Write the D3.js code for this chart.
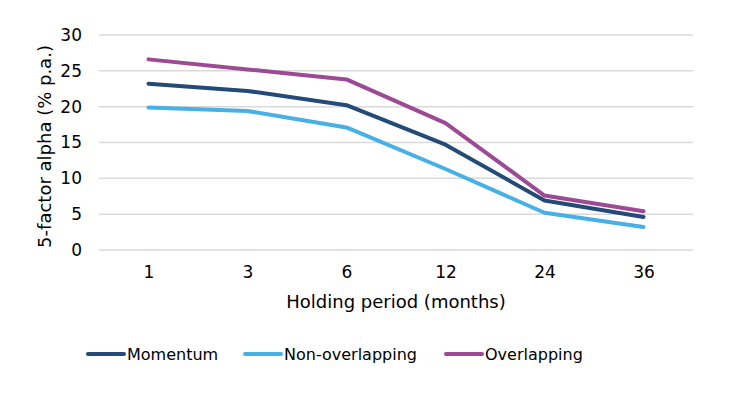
<!DOCTYPE html>
<html>
<head>
<meta charset="utf-8">
<script src="https://cdn.jsdelivr.net/npm/d3@7"></script>
<style>
  body { margin: 0; background: #fff; }
  text { font-family: "DejaVu Sans", Verdana, sans-serif; fill: #000; }
</style>
</head>
<body>
<svg id="chart"></svg>
<script>
// data
const periods = ["1", "3", "6", "12", "24", "36"];
const momentum = [23.2, 22.2, 20.2, 14.7, 6.9, 4.6];
const nonOverlapping = [19.9, 19.4, 17.1, 11.3, 5.2, 3.2];
const overlapping = [26.6, 25.2, 23.8, 17.7, 7.6, 5.4];
const yTicks = [0, 5, 10, 15, 20, 25, 30];
const seriesNames = ["Momentum", "Non-overlapping", "Overlapping"];
const colors = ["#244a77", "#47b0e5", "#9c4a93"];

let width = 740,
  height = 398;
let margin = { top: 35, bottom: 148, left: 99, right: 47 };

let svg = d3.select("#chart").attr("width", width).attr("height", height);

let xScale = d3
  .scalePoint()
  .domain(periods)
  .range([margin.left, width - margin.right])
  .padding(0.5);

let yScale = d3
  .scaleLinear()
  .domain([0, 30])
  .range([height - margin.bottom, margin.top]);

// gridlines
svg
  .selectAll(".grid")
  .data(yTicks)
  .enter()
  .append("line")
  .attr("class", "grid")
  .attr("x1", margin.left)
  .attr("x2", width - margin.right)
  .attr("y1", (d) => yScale(d))
  .attr("y2", (d) => yScale(d))
  .attr("stroke", "#d9d9d9")
  .attr("stroke-width", 1.5);

// y axis
let yAxis = svg
  .append("g")
  .attr("transform", `translate(${margin.left - 17}, 0)`)
  .call(d3.axisLeft(yScale).tickValues(yTicks).tickSize(0).tickPadding(0));
yAxis.select(".domain").remove();
yAxis.selectAll("text").style("font-size", "17px").attr("fill", "#000");

// x axis
let xAxis = svg
  .append("g")
  .attr("transform", `translate(0, ${height - margin.bottom + 16})`)
  .call(d3.axisBottom(xScale).tickSize(0).tickPadding(0));
xAxis.select(".domain").remove();
xAxis.selectAll("text").style("font-size", "17px").attr("fill", "#000");

// titles
svg
  .append("text")
  .attr("transform", `translate(51, ${(yScale(0) + yScale(30)) / 2 + 4}) rotate(-90)`)
  .attr("text-anchor", "middle")
  .style("font-size", "18px")
  .text("5-factor alpha (% p.a.)");

svg
  .append("text")
  .attr("x", (margin.left + width - margin.right) / 2)
  .attr("y", 308)
  .attr("text-anchor", "middle")
  .style("font-size", "18px")
  .text("Holding period (months)");

// lines
let allSeries = [momentum, nonOverlapping, overlapping];
let line = d3
  .line()
  .x((d, i) => xScale(periods[i]))
  .y((d) => yScale(d));

svg
  .selectAll(".series")
  .data(allSeries)
  .enter()
  .append("path")
  .attr("class", "series")
  .attr("d", (d) => line(d))
  .attr("fill", "none")
  .attr("stroke", (d, i) => colors[i])
  .attr("stroke-width", 4)
  .attr("stroke-linecap", "round")
  .attr("stroke-linejoin", "round");

// legend
let legendX = [88, 245, 446];
let legend = svg
  .selectAll(".legend")
  .data(seriesNames)
  .enter()
  .append("g")
  .attr("class", "legend")
  .attr("transform", (d, i) => `translate(${legendX[i]}, 354)`);

legend
  .append("line")
  .attr("x1", 0)
  .attr("x2", 36)
  .attr("stroke", (d, i) => colors[i])
  .attr("stroke-width", 4)
  .attr("stroke-linecap", "round");

legend
  .append("text")
  .attr("x", 39)
  .attr("dy", "0.35em")
  .style("font-size", "16px")
  .text((d) => d);
</script>
</body>
</html>
